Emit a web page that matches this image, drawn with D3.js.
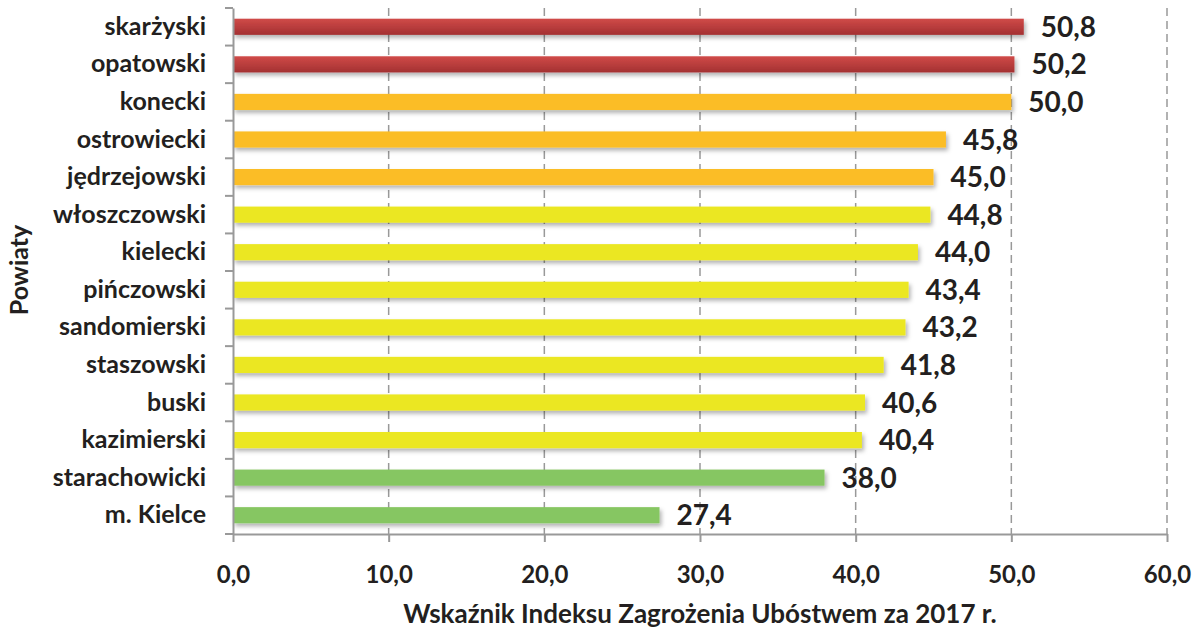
<!DOCTYPE html>
<html>
<head>
<meta charset="utf-8">
<script src="https://cdn.jsdelivr.net/npm/d3@7"></script>
<style>
  body { margin: 0; background: #fff; }
  svg { display: block; font-family: Lato, "Open Sans", sans-serif; font-weight: bold; }
</style>
</head>
<body>
<svg id="chart" width="1194" height="628"></svg>
<script>
const powiaty = ['skarżyski', 'opatowski', 'konecki', 'ostrowiecki', 'jędrzejowski', 'włoszczowski',
  'kielecki ', 'pińczowski', 'sandomierski', 'staszowski', 'buski', 'kazimierski', 'starachowicki', 'm. Kielce'];
const values = [50.8, 50.2, 50.0, 45.8, 45.0, 44.8, 44.0, 43.4, 43.2, 41.8, 40.6, 40.4, 38.0, 27.4];
const groups = ['red', 'red', 'orange', 'orange', 'orange', 'yellow', 'yellow', 'yellow', 'yellow',
  'yellow', 'yellow', 'yellow', 'green', 'green'];
const xTicks = [0, 10, 20, 30, 40, 50, 60];

const margin = {top: 8, right: 27, bottom: 94, left: 233};
const width = 1194, height = 628;
const fmt = v => v.toFixed(1).replace('.', ',');

const svg = d3.select('#chart');
const defs = svg.append('defs');

const grad = defs.append('linearGradient').attr('id', 'redGrad')
  .attr('x1', 0).attr('y1', 0).attr('x2', 0).attr('y2', 1);
grad.append('stop').attr('offset', '0%').attr('stop-color', '#d04a48');
grad.append('stop').attr('offset', '100%').attr('stop-color', '#a33132');

const shadow = defs.append('filter').attr('id', 'shadow')
  .attr('x', '-5%').attr('y', '-50%').attr('width', '110%').attr('height', '220%');
shadow.append('feDropShadow').attr('dx', 2).attr('dy', 3).attr('stdDeviation', 2)
  .attr('flood-color', '#000').attr('flood-opacity', 0.3);

const fills = {red: 'url(#redGrad)', orange: '#fbbd27', yellow: '#ebe720', green: '#86c662'};

const x = d3.scaleLinear().domain([0, 60]).range([margin.left, width - margin.right]);
const y = d3.scaleBand().domain(powiaty).range([margin.top, height - margin.bottom]).paddingInner(0.57).paddingOuter(0.285);
const band = d3.scaleBand().domain(powiaty).range([margin.top, height - margin.bottom]);

// grid
svg.append('g').selectAll('line').data(xTicks.slice(1)).join('line')
  .attr('x1', d => x(d)).attr('x2', d => x(d))
  .attr('y1', margin.top).attr('y2', height - margin.bottom)
  .attr('stroke', '#999').attr('stroke-width', 1.5).attr('stroke-dasharray', '8,5');

// bars
svg.append('g').selectAll('rect').data(powiaty).join('rect')
  .attr('x', x(0))
  .attr('y', d => y(d))
  .attr('width', (d, i) => x(values[i]) - x(0))
  .attr('height', y.bandwidth())
  .attr('fill', (d, i) => fills[groups[i]])
  .attr('filter', 'url(#shadow)');

// value labels
svg.append('g').selectAll('text').data(powiaty).join('text')
  .attr('x', (d, i) => x(values[i]) + 17)
  .attr('y', d => y(d) + y.bandwidth() / 2)
  .attr('dy', '0.36em')
  .attr('font-size', 28)
  .attr('fill', '#231f20')
  .text((d, i) => fmt(values[i]));

// y axis
const yAxis = svg.append('g').attr('transform', `translate(${x(0)},0)`)
  .call(d3.axisLeft(band).tickSizeInner(0).tickSizeOuter(0).tickPadding(27));
yAxis.select('.domain').attr('stroke', '#999').attr('stroke-width', 2);
yAxis.selectAll('text').attr('font-size', 25).attr('fill', '#231f20')
  .attr('font-family', 'Lato, sans-serif').attr('font-weight', 'bold');
svg.append('g').selectAll('line').data(d3.range(powiaty.length + 1)).join('line')
  .attr('x1', x(0) - 8).attr('x2', x(0))
  .attr('y1', i => margin.top + i * band.step()).attr('y2', i => margin.top + i * band.step())
  .attr('stroke', '#999').attr('stroke-width', 2);

// x axis
const xAxis = svg.append('g').attr('transform', `translate(0,${height - margin.bottom})`)
  .call(d3.axisBottom(x).tickValues(xTicks).tickFormat(fmt).tickSizeInner(8).tickSizeOuter(0).tickPadding(24));
xAxis.select('.domain').attr('stroke', '#999').attr('stroke-width', 2);
xAxis.selectAll('line').attr('stroke', '#999').attr('stroke-width', 2);
xAxis.selectAll('text').attr('font-size', 24).attr('fill', '#231f20')
  .attr('font-family', 'Lato, sans-serif').attr('font-weight', 'bold');

// titles
svg.append('text').attr('x', 700).attr('y', 623).attr('text-anchor', 'middle')
  .attr('font-size', 26).attr('fill', '#231f20').text('Wskaźnik Indeksu Zagrożenia Ubóstwem za 2017 r.');
svg.append('text').attr('transform', 'translate(28,270) rotate(-90)').attr('text-anchor', 'middle')
  .attr('font-size', 25).attr('fill', '#231f20').text('Powiaty');
</script>
</body>
</html>
